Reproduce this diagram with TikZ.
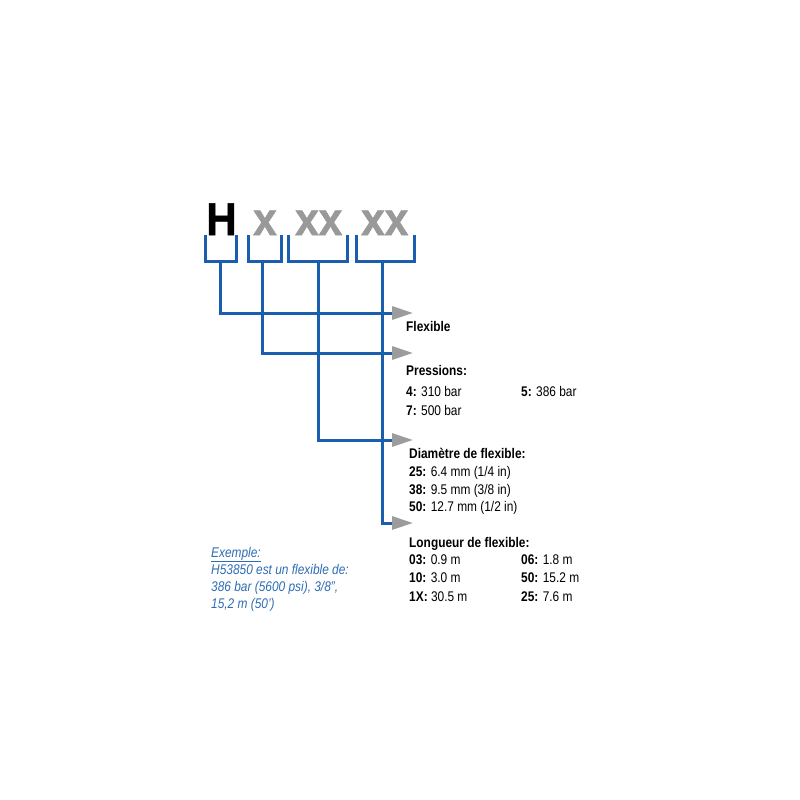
\documentclass[tikz,border=0pt]{standalone}
\usepackage{fontspec}
\setmainfont{Liberation Sans}[FakeStretch=0.85]
\newfontfamily\bigfont{Liberation Sans}[FakeStretch=0.92,FakeBold=1.2]
\usetikzlibrary{arrows.meta}
\definecolor{lineblue}{HTML}{1B5EB0}
\definecolor{textblue}{HTML}{2E6DB4}
\definecolor{codegray}{HTML}{999999}
\definecolor{arrowgray}{HTML}{9C9C9C}
\begin{document}
\begin{tikzpicture}[x=1pt,y=-1pt,
  conn/.style={draw=lineblue,line width=3pt},
  arr/.style={conn,-{Triangle[length=21pt,width=13pt,color=arrowgray]}},
  big/.style={inner sep=0pt,anchor=base west,font=\bigfont\fontsize{46}{46}\selectfont\bfseries},
  lbl/.style={inner sep=0pt,anchor=base west,font=\fontsize{14}{16}\selectfont},
  ex/.style={inner sep=0pt,anchor=base west,text=textblue,font=\fontsize{14}{16}\selectfont\itshape}]
\useasboundingbox[fill=white] (0,0) rectangle (800,800);
% code letters
\node[big,text=black] (cH) at (206,235) {H};
\node[big,text=codegray] (cx) at (253,235) {x};
\node[big,text=codegray] (cxx1) at (295,235) {xx};
\node[big,text=codegray] (cxx2) at (361,235) {xx};
% brackets
\draw[conn] (205,235) |- (236,261) -- (236,235);
\draw[conn] (248,235) |- (281,261) -- (281,235);
\draw[conn] (288,235) |- (347,261) -- (347,235);
\draw[conn] (356,235) |- (414,261) -- (414,235);
% stems and arrow targets
\coordinate (s1) at (220,261);
\coordinate (s2) at (262,261);
\coordinate (s3) at (318,261);
\coordinate (s4) at (382,261);
\coordinate (t1) at (413,313);
\coordinate (t2) at (413,353);
\coordinate (t3) at (413,440);
\coordinate (t4) at (413,523);
\draw[arr] (s1) |- (t1);
\draw[arr] (s2) |- (t2);
\draw[arr] (s3) |- (t3);
\draw[arr] (s4) |- (t4);
% labels
\node[lbl] (flex) at (406,331) {\textbf{Flexible}};
\node[lbl] (pres) at (406,375) {\textbf{Pressions:}};
\node[lbl] (p4) at (406,396) {\textbf{4:} 310 bar};
\node[lbl] (p5) at (521,396) {\textbf{5:} 386 bar};
\node[lbl] (p7) at (406,415) {\textbf{7:} 500 bar};
\node[lbl] (diam) at (409,458) {\textbf{Diamètre de flexible:}};
\node[lbl] (d25) at (409,476) {\textbf{25:} 6.4 mm (1/4 in)};
\node[lbl] (d38) at (409,494) {\textbf{38:} 9.5 mm (3/8 in)};
\node[lbl] (d50) at (409,511) {\textbf{50:} 12.7 mm (1/2 in)};
\node[lbl] (long) at (409,547) {\textbf{Longueur de flexible:}};
\node[lbl] (l03) at (409,564) {\textbf{03:} 0.9 m};
\node[lbl] (l10) at (409,582) {\textbf{10:} 3.0 m};
\node[lbl] (l1X) at (409,601) {\textbf{1X:} 30.5 m};
\node[lbl] (l06) at (521,564) {\textbf{06:} 1.8 m};
\node[lbl] (l50) at (521,582) {\textbf{50:} 15.2 m};
\node[lbl] (l25) at (521,601) {\textbf{25:} 7.6 m};
% example
\node[ex] (e1) at (211,557) {\underline{Exemple:}};
\node[ex] (e2) at (211,574) {H53850 est un flexible de:};
\node[ex] (e3) at (211,591) {386 bar (5600 psi), 3/8”,};
\node[ex] (e4) at (211,608) {15,2 m (50’)};
\end{tikzpicture}
\end{document}
